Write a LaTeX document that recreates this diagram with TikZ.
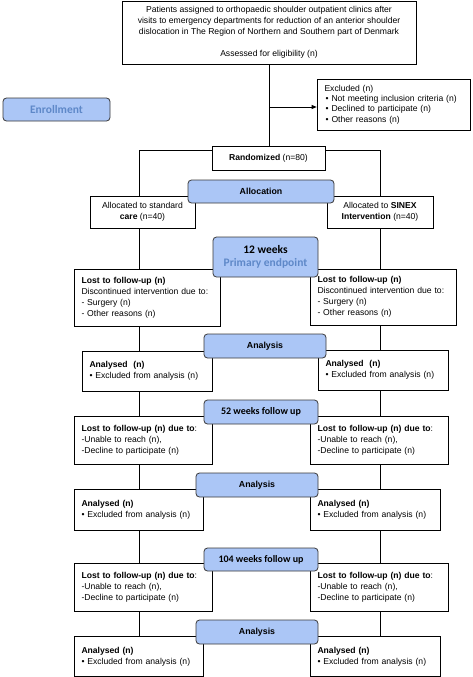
\documentclass[tikz,border=0pt]{standalone}
\usepackage{fontspec}
\setmainfont{Liberation Sans}
\newfontfamily\headfont{Carlito}
\usetikzlibrary{arrows.meta,calc}
\definecolor{bfill}{HTML}{ABC6F6}
\definecolor{btext}{HTML}{5E88C8}
\definecolor{bdraw}{HTML}{3A3A3A}
\begin{document}
\begin{tikzpicture}[x=1pt,y=-1pt,
  txt/.style={font=\fontsize{8.6}{10.9}\selectfont},
  wbox/.style={draw=black, fill=white, line width=0.7pt, inner ysep=0pt, txt},
  lbox/.style={wbox, inner xsep=7.5pt, align=left, text width=#1-15pt, minimum width=#1},
  cbox/.style={wbox, inner xsep=2pt, align=center, minimum width=#1},
  bbox/.style={draw=bdraw, fill=bfill, line width=0.8pt, rounded corners=3.5pt, inner sep=0pt, align=center, minimum width=#1},
  hfont/.style={font=\headfont\bfseries\fontsize{11.5}{13.5}\selectfont},
  wfont/.style={font=\headfont\bfseries\fontsize{10}{12}\selectfont},
  afont/.style={font=\bfseries\fontsize{8.8}{10}\selectfont},
  line/.style={draw=black, line width=0.7pt},
  arr/.style={line, -{Triangle[length=5pt,width=4pt]}}
]
\useasboundingbox (0,0) rectangle (473,677);
\fill[white] (0,0) rectangle (473,677);

\coordinate (xl) at (139,0);
\coordinate (xr) at (380,0);

% white boxes
\node[cbox=294pt, minimum height=63pt] (top) at (269,32.5) {Patients assigned to orthopaedic shoulder outpatient clinics after\\visits to emergency departments for reduction of an anterior shoulder\\dislocation in The Region of Northern and Southern part of Denmark\\[10.9pt]Assessed for eligibility (n)};
\node[lbox=153pt, minimum height=51pt] (excl) at (393.5,104.5) {Excluded (n)\\[-0.6pt]
\hspace*{1pt}\textbullet\hspace{3pt}\mbox{Not meeting inclusion criteria (n)}\\[-0.6pt]
\hspace*{1pt}\textbullet\hspace{3pt}Declined to participate (n)\\[-0.6pt]
\hspace*{1pt}\textbullet\hspace{3pt}Other reasons (n)};
\node[cbox=113pt, minimum height=24pt] (rand) at (268.5,158) {\textbf{Randomized} (n=80)};
\node[cbox=105pt, minimum height=32pt] (allocL) at (142.5,212) {Allocated to standard\\\textbf{care} (n=40)};
\node[cbox=106pt, minimum height=32pt] (allocR) at (380,212) {Allocated to \textbf{SINEX}\\\textbf{Intervention} (n=40)};

\node[lbox=146pt, minimum height=57pt] (lostL1) at (147,297.5) {\textbf{Lost to follow-up (n)}\\\mbox{Discontinued intervention due to:}\\- Surgery (n)\\- Other reasons (n)};
\node[lbox=146pt, minimum height=56pt] (lostR1) at (383,297) {\textbf{Lost to follow-up (n)}\\\mbox{Discontinued intervention due to:}\\- Surgery (n)\\- Other reasons (n)};

\node[lbox=130pt, minimum height=40pt] (anaL1) at (147,371) {\textbf{Analysed\ \ (n)}\\\textbullet\ \mbox{Excluded from analysis (n)}};
\node[lbox=130pt, minimum height=40pt] (anaR1) at (383,370) {\textbf{Analysed\ \ (n)}\\\textbullet\ \mbox{Excluded from analysis (n)}};

\node[lbox=138pt, minimum height=48pt] (lostL2) at (143,440) {\textbf{Lost to follow-up (n) due to}:\\-Unable to reach (n),\\-Decline to participate (n)};
\node[lbox=138pt, minimum height=48pt] (lostR2) at (379,440) {\textbf{Lost to follow-up (n) due to}:\\-Unable to reach (n),\\-Decline to participate (n)};

\node[lbox=129pt, minimum height=41pt] (anaL2) at (138.5,509.5) {\textbf{Analysed (n)}\\\textbullet\ \mbox{Excluded from analysis (n)}};
\node[lbox=130pt, minimum height=41pt] (anaR2) at (375,509.5) {\textbf{Analysed (n)}\\\textbullet\ \mbox{Excluded from analysis (n)}};

\node[lbox=138pt, minimum height=48pt] (lostL3) at (143,587) {\textbf{Lost to follow-up (n) due to}:\\-Unable to reach (n),\\-Decline to participate (n)};
\node[lbox=138pt, minimum height=48pt] (lostR3) at (379,587) {\textbf{Lost to follow-up (n) due to}:\\-Unable to reach (n),\\-Decline to participate (n)};

\node[lbox=129pt, minimum height=40pt] (anaL3) at (138.5,656.5) {\textbf{Analysed (n)}\\\textbullet\ \mbox{Excluded from analysis (n)}};
\node[lbox=130pt, minimum height=40pt] (anaR3) at (375,656.5) {\textbf{Analysed (n)}\\\textbullet\ \mbox{Excluded from analysis (n)}};

% connectors
\coordinate (j) at (269,107);
\draw[line] (top.south -| j) -- (rand.north -| j);
\draw[arr] (j) -- (j -| excl.west);
\draw[line] ($(rand.north west)+(0,5)$) -| (xl |- allocL.north);
\draw[line] ($(rand.north east)+(0,5)$) -| (xr |- allocR.north);
\foreach \a/\b in {allocL/lostL1,lostL1/anaL1,anaL1/lostL2,lostL2/anaL2,anaL2/lostL3,lostL3/anaL3}
  \draw[line] (xl |- \a.south) -- (xl |- \b.north);
\foreach \a/\b in {allocR/lostR1,lostR1/anaR1,anaR1/lostR2,lostR2/anaR2,anaR2/lostR3,lostR3/anaR3}
  \draw[line] (xr |- \a.south) -- (xr |- \b.north);

% blue boxes
\node[bbox=107pt, minimum height=23pt, hfont, text=btext] (enroll) at (56.5,109.5) {Enrollment};
\node[bbox=146pt, minimum height=23pt, afont] (alloc) at (261,191.5) {Allocation};
\node[bbox=105pt, minimum height=40pt, hfont] (wk12) at (265.5,257) {12 weeks\\\textcolor{btext}{Primary endpoint}};
\node[bbox=122pt, minimum height=24pt, afont] (ana1) at (265,346) {Analysis};
\node[bbox=114pt, minimum height=24pt, wfont] (wk52) at (261,412) {52 weeks follow up};
\node[bbox=122pt, minimum height=24pt, afont] (ana2) at (257,485) {Analysis};
\node[bbox=114pt, minimum height=23pt, wfont] (wk104) at (261,559.5) {104 weeks follow up};
\node[bbox=122pt, minimum height=24pt, afont] (ana3) at (257,632) {Analysis};
\end{tikzpicture}
\end{document}
